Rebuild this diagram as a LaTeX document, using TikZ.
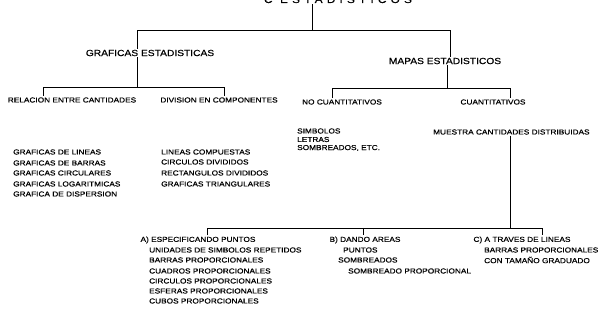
\documentclass[tikz,border=0pt]{standalone}
\usepackage{fontspec}
\setmainfont{Liberation Sans}[FakeStretch=1.15,FakeBold=0.4]
\newfontfamily\titlefont{Liberation Sans}[FakeStretch=1.18,FakeBold=0.4,LetterSpace=42]
\usetikzlibrary{positioning}

\begin{document}
\begin{tikzpicture}[x=1pt,y=-1pt,
		head/.style={inner sep=1pt,font=\fontsize{8.9}{10}\selectfont},
		lbl/.style={inner sep=1pt,font=\fontsize{7.2}{9}\selectfont},
		entry/.style={lbl,anchor=west},
		rama/.style={line width=0.6pt}]
		\useasboundingbox (0,0) rectangle (603,328);
		% raiz (cortada arriba)
		\node[anchor=base,inner sep=1pt,font=\fontsize{10}{12}\titlefont] (ttl) at (338,3) {C ESTADISTICOS};
		\coordinate (r) at (312,30);
		\coordinate (b1l) at (137,30);
		\coordinate (b1r) at (450,30);
		\node[head] (graf) at (150,53) {GRAFICAS ESTADISTICAS};
		\node[head] (mapas) at (445,61) {MAPAS ESTADISTICOS};
		\draw[rama] (ttl.south -| r) -- (r);
		\draw[rama] (b1l |- graf.north) -- (b1l) -- (b1r) -- (b1r |- mapas.north);
		% graficas
		\coordinate (b2m) at (137,87);
		\coordinate (b2l) at (43,87);
		\coordinate (b2r) at (224,87);
		\node[lbl] (rel) at (72,100) {RELACION ENTRE CANTIDADES};
		\node[lbl] (div) at (219,100) {DIVISION EN COMPONENTES};
		\draw[rama] (graf.south -| b2m) -- (b2m);
		\draw[rama] (b2l |- rel.north) -- (b2l) -- (b2r) -- (b2r |- div.north);
		\node[entry] (rel1) at (12,152) {GRAFICAS DE LINEAS};
		\node[entry] (rel2) at (12,163) {GRAFICAS DE BARRAS};
		\node[entry] (rel3) at (12,173) {GRAFICAS CIRCULARES};
		\node[entry] (rel4) at (12,184) {GRAFICAS LOGARITMICAS};
		\node[entry] (rel5) at (12,194) {GRAFICA DE DISPERSION};
		\node[entry] (div1) at (160,152) {LINEAS COMPUESTAS};
		\node[entry] (div2) at (160,162) {CIRCULOS DIVIDIDOS};
		\node[entry] (div3) at (160,173) {RECTANGULOS DIVIDIDOS};
		\node[entry] (div4) at (160,184) {GRAFICAS TRIANGULARES};
		% mapas
		\coordinate (b3m) at (447,88);
		\coordinate (b3l) at (332,88);
		\coordinate (b3r) at (510,88);
		\node[lbl] (nocu) at (342,102) {NO CUANTITATIVOS};
		\node[lbl] (cuan) at (493,102) {CUANTITATIVOS};
		\draw[rama] (mapas.south -| b3m) -- (b3m);
		\draw[rama] (b3l |- nocu.north) -- (b3l) -- (b3r) -- (b3r |- cuan.north);
		\node[entry] (nocu1) at (296,131) {SIMBOLOS};
		\node[entry] (nocu2) at (296,139.5) {LETRAS};
		\node[entry] (nocu3) at (296,148) {SOMBREADOS, ETC.};
		\node[entry] (mues) at (432,132) {MUESTRA CANTIDADES DISTRIBUIDAS};
		% cuantitativos
		\coordinate (b4m) at (510,228);
		\coordinate (b4l) at (207,228);
		\coordinate (b4c) at (363,228);
		\coordinate (b4r) at (542,228);
		\node[lbl] (pts) at (198,240) {A) ESPECIFICANDO PUNTOS};
		\node[lbl] (are) at (365,240) {B) DANDO AREAS};
		\node[lbl] (lin) at (522,240) {C) A TRAVES DE LINEAS};
		\draw[rama] (mues.south -| b4m) -- (b4m);
		\draw[rama] (b4l |- pts.north) -- (b4l) -- (b4r) -- (b4r |- lin.north);
		\draw[rama] (b4c) -- (b4c |- are.north);
		\node[entry] (pts1) at (148,250) {UNIDADES DE SIMBOLOS REPETIDOS};
		\node[entry] (pts2) at (148,260) {BARRAS PROPORCIONALES};
		\node[entry] (pts3) at (148,271) {CUADROS PROPORCIONALES};
		\node[entry] (pts4) at (148,281) {CIRCULOS PROPORCIONALES};
		\node[entry] (pts5) at (148,291) {ESFERAS PROPORCIONALES};
		\node[entry] (pts6) at (148,301) {CUBOS PROPORCIONALES};
		\node[entry] (are1) at (342,250) {PUNTOS};
		\node[entry] (are2) at (337,260) {SOMBREADOS};
		\node[entry] (are3) at (347,271) {SOMBREADO PROPORCIONAL};
		\node[entry] (lin1) at (483,250) {BARRAS PROPORCIONALES};
		\node[entry] (lin2) at (483,260) {CON TAMAÑO GRADUADO};
	\end{tikzpicture}
\end{document}
